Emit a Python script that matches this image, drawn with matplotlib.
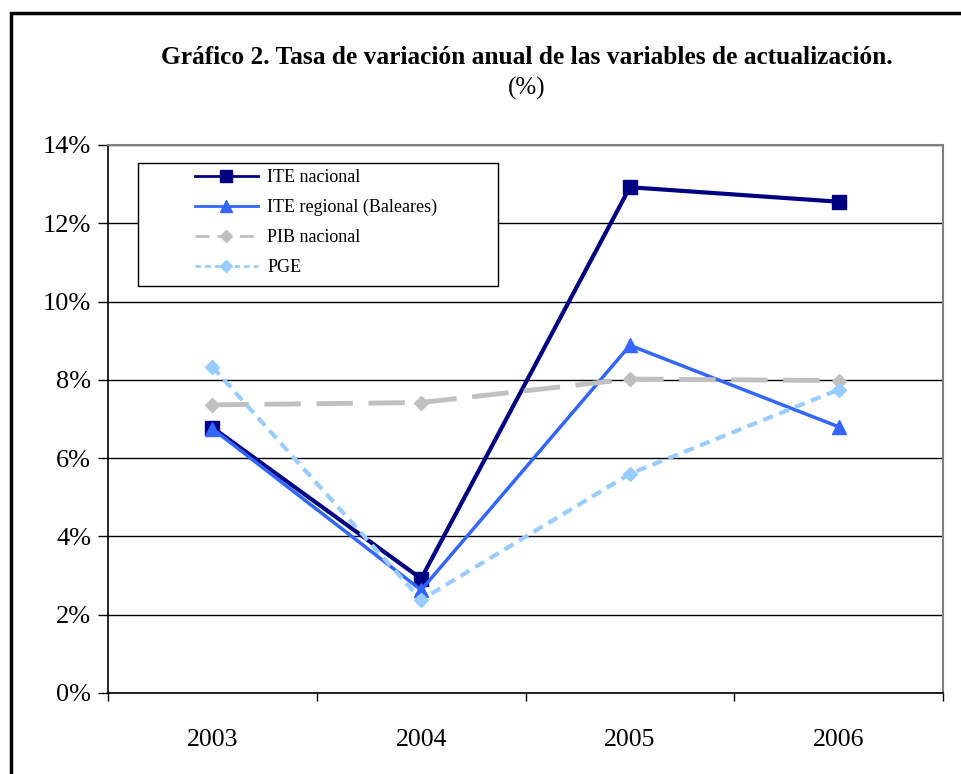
import matplotlib.pyplot as plt
from matplotlib.patches import Rectangle
from matplotlib.lines import Line2D
from matplotlib.ticker import FuncFormatter

years = ["2003", "2004", "2005", "2006"]
ite_nacional = [6.78, 2.92, 12.92, 12.55]
ite_regional = [6.75, 2.63, 8.88, 6.80]
pib_nacional = [7.36, 7.42, 8.02, 7.98]
pge = [8.33, 2.38, 5.60, 7.75]
names = ["ITE nacional", "ITE regional (Baleares)", "PIB nacional", "PGE"]

plt.rcParams['font.family'] = ['Liberation Serif', 'DejaVu Serif']

fig = plt.figure(figsize=(9.62, 7.74), dpi=100)
ax = fig.add_axes([0.1123, 0.1047, 0.868, 0.708])

x = list(range(len(years)))
ax.plot(x, ite_nacional, color="#000080", lw=3, marker="s", ms=10, zorder=3)
ax.plot(x, ite_regional, color="#3366FF", lw=2.5, marker="^", ms=10, zorder=3)
ax.plot(x, pib_nacional, color="#C0C0C0", lw=3.5, marker="D", ms=7,
        dashes=(7.5, 3.2), zorder=3)
ax.plot(x, pge, color="#99CCFF", lw=3, marker="D", ms=7,
        dashes=(2.5, 1.6), zorder=3)

ax.set_xlim(-0.5, 3.5)
ax.set_ylim(0, 14)
ax.set_yticks(range(0, 15, 2))
ax.yaxis.set_major_formatter(FuncFormatter(lambda v, p: f"{v:.0f}%"))
ax.set_xticks(x)
ax.set_xticklabels(years)
ax.set_xticks([-0.5, 0.5, 1.5, 2.5, 3.5], minor=True)
ax.tick_params(axis="x", which="major", length=0, pad=26, labelsize=18.5)
ax.tick_params(axis="x", which="minor", length=6, width=1, direction="out")
ax.tick_params(axis="y", length=7, width=1, direction="out", labelsize=19, pad=5)
ax.grid(axis="y", color="black", lw=1, zorder=1)

for side in ["top", "right"]:
    ax.spines[side].set_color("#808080")
    ax.spines[side].set_linewidth(1.5)
for side in ["left", "bottom"]:
    ax.spines[side].set_color("black")
    ax.spines[side].set_linewidth(1.2)

# legend box
ax.add_patch(Rectangle((0.036, 0.743), 0.431, 0.224, transform=ax.transAxes,
                       facecolor="white", edgecolor="black", lw=1, zorder=4))
handles = [
    Line2D([], [], color="#000080", lw=2, marker="s", ms=8),
    Line2D([], [], color="#3366FF", lw=2, marker="^", ms=8),
    Line2D([], [], color="#C0C0C0", lw=2, marker="D", ms=6, dashes=(5, 3)),
    Line2D([], [], color="#99CCFF", lw=2, marker="D", ms=6, dashes=(2, 1.5)),
]
leg = ax.legend(handles, names, loc="upper left", bbox_to_anchor=(0.104, 0.956),
                frameon=False, fontsize=13, handlelength=3.5, handletextpad=0.5,
                labelspacing=0.72, borderpad=0, borderaxespad=0)
leg.set_zorder(5)

fig.text(0.548, 0.926, "Gráfico 2. Tasa de variación anual de las variables de actualización.",
         ha="center", va="center", fontsize=18.3, fontweight="bold")
fig.text(0.548, 0.886, "(%)", ha="center", va="center", fontsize=18)

# outer frame
fig.patches.append(Rectangle((11 / 962, -0.05), 1.0, 1.05 - 13 / 774,
                             transform=fig.transFigure, fill=False,
                             edgecolor="black", lw=2.5))

fig.savefig("out.png", dpi=100)
